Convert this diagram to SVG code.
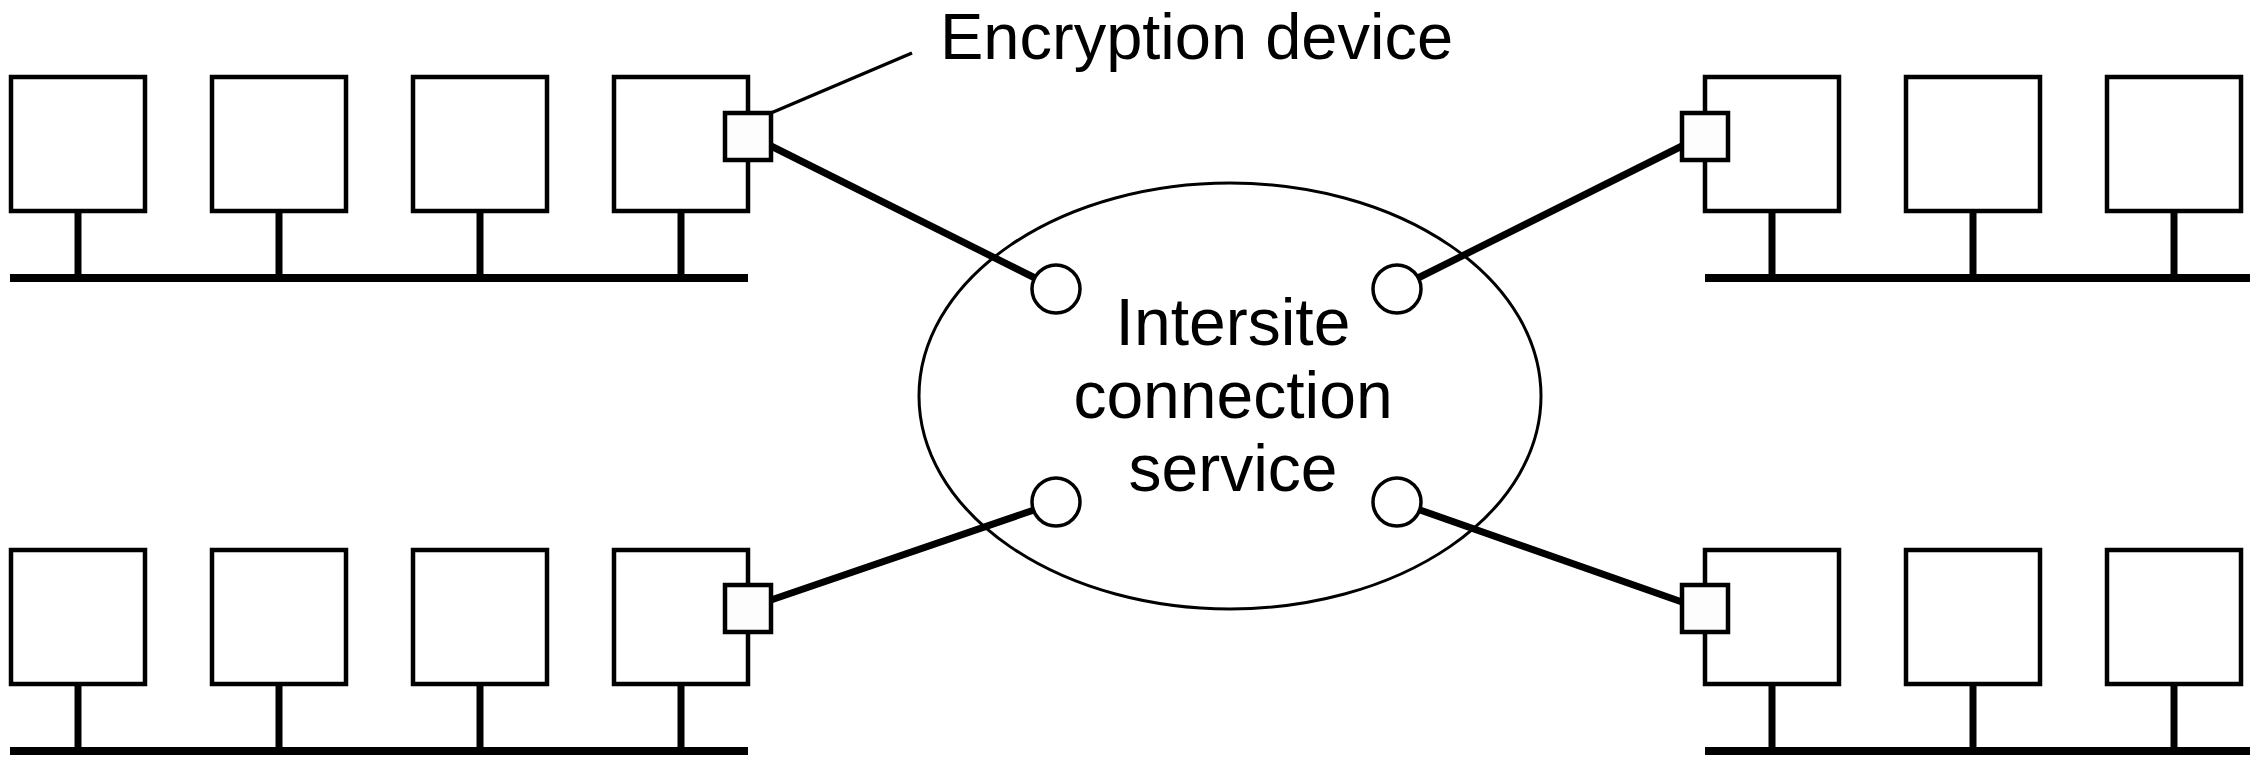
<svg xmlns="http://www.w3.org/2000/svg" width="2258" height="758" viewBox="0 0 2258 758">
<style>
.host{fill:#fff;stroke:#000;stroke-width:4.5}
.stem{stroke:#000;stroke-width:7}
.bus{stroke:#000;stroke-width:8}
.enc{fill:#fdfdfd;stroke:#000;stroke-width:4.5}
.link{stroke:#000;stroke-width:7;fill:none}
.lead{stroke:#000;stroke-width:3.5;fill:none}
.port{fill:#fff;stroke:#000;stroke-width:3.5}
.cloud{fill:none;stroke:#000;stroke-width:3}
.t{font-family:"Liberation Sans",Arial,sans-serif;font-size:66px;fill:#000}
.lbl{font-family:"Liberation Sans",Arial,sans-serif;font-size:65px;fill:#000}
</style>
<rect width="2258" height="758" fill="#fff"/>
<g id="service">
<ellipse class="cloud" cx="1230" cy="396" rx="311" ry="213"/>
<text class="t" x="1233" y="345" text-anchor="middle">Intersite</text>
<text class="t" x="1233" y="418" text-anchor="middle">connection</text>
<text class="t" x="1233" y="491" text-anchor="middle">service</text>
</g>
<g id="connectors">
<line class="link" x1="771" y1="146" x2="1035" y2="278"/>
<line class="link" x1="1682" y1="146" x2="1418" y2="278"/>
<line class="link" x1="771" y1="600" x2="1034" y2="510"/>
<line class="link" x1="1682" y1="602" x2="1420" y2="510"/>
<line class="lead" x1="771" y1="113" x2="912" y2="53"/>
</g>
<g id="ports">
<circle class="port" cx="1056" cy="289" r="24"/>
<circle class="port" cx="1397" cy="289" r="24"/>
<circle class="port" cx="1056" cy="502" r="24"/>
<circle class="port" cx="1397" cy="502" r="24"/>
</g>
<g id="lan-top-left">
<line class="bus" x1="10" y1="278" x2="748" y2="278"/>
<line class="stem" x1="78" y1="213" x2="78" y2="278"/>
<line class="stem" x1="279" y1="213" x2="279" y2="278"/>
<line class="stem" x1="480" y1="213" x2="480" y2="278"/>
<line class="stem" x1="681" y1="213" x2="681" y2="278"/>
<rect class="host" x="11" y="77" width="134" height="134"/>
<rect class="host" x="212" y="77" width="134" height="134"/>
<rect class="host" x="413" y="77" width="134" height="134"/>
<rect class="host" x="614" y="77" width="134" height="134"/>
<rect class="enc" x="725" y="113" width="46" height="47"/>
</g>
<g id="lan-bottom-left">
<line class="bus" x1="10" y1="751" x2="748" y2="751"/>
<line class="stem" x1="78" y1="686" x2="78" y2="751"/>
<line class="stem" x1="279" y1="686" x2="279" y2="751"/>
<line class="stem" x1="480" y1="686" x2="480" y2="751"/>
<line class="stem" x1="681" y1="686" x2="681" y2="751"/>
<rect class="host" x="11" y="550" width="134" height="134"/>
<rect class="host" x="212" y="550" width="134" height="134"/>
<rect class="host" x="413" y="550" width="134" height="134"/>
<rect class="host" x="614" y="550" width="134" height="134"/>
<rect class="enc" x="725" y="585" width="46" height="47"/>
</g>
<g id="lan-top-right">
<line class="bus" x1="1705" y1="278" x2="2250" y2="278"/>
<line class="stem" x1="1772" y1="213" x2="1772" y2="278"/>
<line class="stem" x1="1973" y1="213" x2="1973" y2="278"/>
<line class="stem" x1="2174" y1="213" x2="2174" y2="278"/>
<rect class="host" x="1705" y="77" width="134" height="134"/>
<rect class="host" x="1906" y="77" width="134" height="134"/>
<rect class="host" x="2107" y="77" width="134" height="134"/>
<rect class="enc" x="1682" y="113" width="46" height="47"/>
</g>
<g id="lan-bottom-right">
<line class="bus" x1="1705" y1="751" x2="2250" y2="751"/>
<line class="stem" x1="1772" y1="686" x2="1772" y2="751"/>
<line class="stem" x1="1973" y1="686" x2="1973" y2="751"/>
<line class="stem" x1="2174" y1="686" x2="2174" y2="751"/>
<rect class="host" x="1705" y="550" width="134" height="134"/>
<rect class="host" x="1906" y="550" width="134" height="134"/>
<rect class="host" x="2107" y="550" width="134" height="134"/>
<rect class="enc" x="1682" y="585" width="46" height="47"/>
</g>
<g id="label">
<text class="lbl" x="940" y="59">Encryption device</text>
</g>
</svg>
